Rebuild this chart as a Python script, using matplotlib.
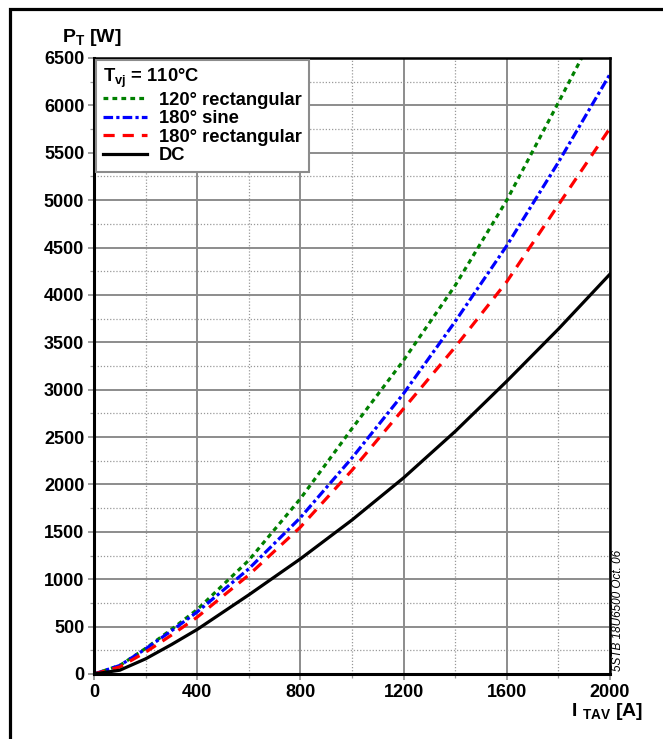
import matplotlib
matplotlib.use('Agg')
import matplotlib.pyplot as plt
from matplotlib.patches import Rectangle
from matplotlib.ticker import MultipleLocator

plt.rcParams['font.family'] = ['Liberation Sans', 'DejaVu Sans']
plt.rcParams['font.weight'] = 'bold'
plt.rcParams['mathtext.fontset'] = 'custom'
plt.rcParams['mathtext.rm'] = 'Liberation Sans:bold'
plt.rcParams['mathtext.bf'] = 'Liberation Sans:bold'
plt.rcParams['mathtext.it'] = 'Liberation Sans:bold'

# on-state power loss vs average current
current = [0, 100, 200, 300, 400, 600, 800, 1000, 1200, 1400, 1600, 1800, 2000]
p_dc = [0, 40, 160, 310, 470, 835, 1215, 1625, 2070, 2560, 3090, 3640, 4220]
p_rect180 = [0, 75, 230, 410, 600, 1045, 1550, 2150, 2800, 3450, 4140, 4950, 5760]
p_sine180 = [0, 90, 265, 455, 655, 1110, 1650, 2280, 2960, 3720, 4520, 5400, 6330]
current_rect120 = [0, 100, 200, 300, 400, 600, 800, 1000, 1200, 1400, 1600, 1800, 1890]
p_rect120 = [0, 90, 270, 470, 680, 1200, 1850, 2590, 3310, 4100, 5000, 6030, 6500]

fig = plt.figure(figsize=(6.63, 7.39), dpi=100)
ax = fig.add_axes([94/663, 1-674/739, (610-94)/663, (674-58)/739])

lw = 2.3
ax.plot(current_rect120, p_rect120, color='#008000', lw=lw, dashes=(1.5, 1.3),
        label='120° rectangular')
ax.plot(current, p_sine180, color='#0000ff', lw=lw, dashes=(3, 1, 1, 1),
        label='180° sine')
ax.plot(current, p_rect180, color='#ff0000', lw=lw, dashes=(3.5, 2.5),
        label='180° rectangular')
ax.plot(current, p_dc, color='black', lw=lw, label='DC')

ax.set_xlim(0, 2000)
ax.set_ylim(0, 6500)
ax.xaxis.set_major_locator(MultipleLocator(400))
ax.xaxis.set_minor_locator(MultipleLocator(200))
ax.yaxis.set_major_locator(MultipleLocator(500))
ax.yaxis.set_minor_locator(MultipleLocator(250))
ax.grid(which='major', color='#8c8c8c', lw=1.4, ls='-')
ax.grid(which='minor', color='#999999', lw=0.9, ls=(0, (1, 1.5)))
ax.set_axisbelow(True)
ax.tick_params(which='major', length=4, width=1.2, color='#8c8c8c',
               labelsize=13, pad=3)
ax.tick_params(which='minor', length=3, width=0.9, color='#999999')
for lab in ax.get_xticklabels() + ax.get_yticklabels():
    lab.set_fontweight('bold')
for s in ax.spines.values():
    s.set_linewidth(1.8)
    s.set_color('black')
ax.spines['left'].set_linewidth(2.2)
ax.spines['bottom'].set_linewidth(2.2)

leg = ax.legend(title=r'T$_{\mathrm{vj}}$ = 110°C', loc='upper left',
                alignment='left', fontsize=13.2, title_fontsize=13.2,
                handlelength=2.4, labelspacing=0.08, handletextpad=0.65,
                borderaxespad=0.1, borderpad=0.4, fancybox=False,
                framealpha=1, edgecolor='#8c8c8c')
leg.get_frame().set_linewidth(1.5)
leg.get_title().set_fontweight('bold')
for t in leg.get_texts():
    t.set_fontweight('bold')

fig.text(62/663, 1-37/739, r'P$_{\mathrm{T}}$ [W]', fontsize=14,
         fontweight='bold', va='center', ha='left')
fig.text(643/663, 1-711/739, r'I $_{\mathrm{TAV}}$ [A]', fontsize=14,
         fontweight='bold', va='center', ha='right')
fig.text(618/663, 1-671/739, '5STB 18U6500 Oct. 06', fontsize=8.5,
         fontstyle='italic', fontweight='normal', rotation=90,
         ha='center', va='bottom')

fig.add_artist(Rectangle((10/663, -0.1), 1.2, 1-9/739+0.1,
                         transform=fig.transFigure, fill=False,
                         lw=2.3, edgecolor='black'))

fig.savefig('out.png', dpi=100)
